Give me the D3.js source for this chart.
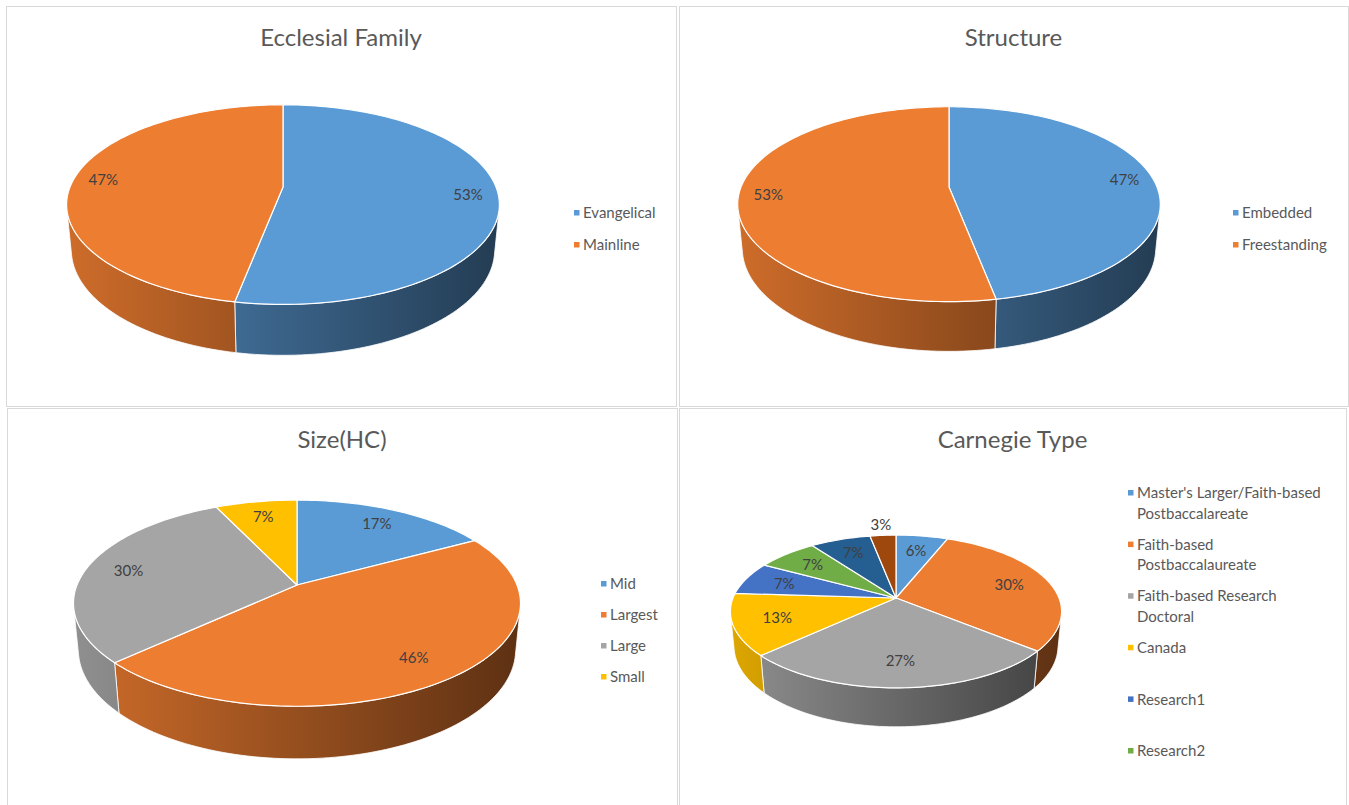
<!DOCTYPE html>
<html>
<head>
<meta charset="utf-8">
<script src="https://cdn.jsdelivr.net/npm/d3@7"></script>
<style>
  body { margin: 0; background: #fff; }
  text { font-family: Lato, "Open Sans", sans-serif; }
</style>
</head>
<body>
<div id="chart"></div>
<script>
// ---- data ----
const ecclesialLabels = ["Evangelical", "Mainline"];
const ecclesialValues = [53, 47];

const structureLabels = ["Embedded", "Freestanding"];
const structureValues = [47, 53];

const sizeLabels = ["Mid", "Largest", "Large", "Small"];
const sizeValues = [17, 46, 30, 7];

// only six legend entries fit in the panel, the pie has eight slices
const carnegieLabels = ["Master's Larger/Faith-based Postbaccalareate", "Faith-based Postbaccalaureate",
  "Faith-based Research Doctoral", "Canada", "Research1", "Research2"];
const carnegieValues = [6, 30, 27, 13, 7, 7, 7, 3];

const palette = ["#5B9BD5", "#ED7D31", "#A5A5A5", "#FFC000", "#4472C4", "#70AD47", "#255E91", "#9E480E"];

const W = 1349, H = 805;
const svg = d3.select("#chart").append("svg").attr("width", W).attr("height", H);
const defs = svg.append("defs");

// panels: frame, pie placement (3d projection), legend placement
const panels = [
  { title: "Ecclesial Family", labels: ecclesialLabels, values: ecclesialValues,
    box: [6, 6, 670, 400], titleY: 46,
    pie: { cx: 283, cy: 187, S: 213 }, labelR: 0.86,
    legend: { x: 583, y: 213, step: 32, wrap: 999 } },
  { title: "Structure", labels: structureLabels, values: structureValues,
    box: [679, 6, 669, 400], titleY: 46,
    pie: { cx: 949, cy: 187, S: 208 }, labelR: 0.86,
    legend: { x: 1242, y: 213, step: 32, wrap: 999 } },
  { title: "Size(HC)", labels: sizeLabels, values: sizeValues,
    box: [7, 408, 670, 400], titleY: 448,
    pie: { cx: 297, cy: 585, S: 220 }, labelR: 0.8,
    legend: { x: 610, y: 584, step: 31, wrap: 999 } },
  { title: "Carnegie Type", labels: carnegieLabels, values: carnegieValues,
    box: [679, 408, 667, 400], titleY: 448,
    pie: { cx: 896, cy: 598, S: 163 }, labelR: 0.74,
    legend: { x: 1137, y: 493, step: 51.6, wrap: 186 } }
];

// 3d tilt shared by all pies
const tilt = 27 * Math.PI / 180;
const sinT = Math.sin(tilt), cosT = Math.cos(tilt);
const persp = 0.198;     // radius / camera distance
const thick = 0.24;      // slab thickness relative to radius
const visQ = persp / cosT;
const visA0 = Math.acos(-visQ), visA1 = 2 * Math.PI - visA0;

function project(g, a, r, h) {
  const X = r * Math.sin(a), Z = r * Math.cos(a);
  const dd = 1 + persp * (Z * cosT - h * sinT);
  return [g.cx + g.S * X / dd, g.cy - g.S * (Z * sinT + h * cosT) / dd];
}
function arcPts(g, a0, a1, h) {
  const n = Math.max(2, Math.ceil((a1 - a0) / (Math.PI / 120)));
  return d3.range(n + 1).map(i => project(g, a0 + (a1 - a0) * i / n, 1, h));
}
const line = d3.line();

panels.forEach((p, pi) => {
  const g = p.pie;
  const panel = svg.append("g");

  panel.append("rect")
    .attr("x", p.box[0] + 0.5).attr("y", p.box[1] + 0.5)
    .attr("width", p.box[2]).attr("height", p.box[3])
    .attr("fill", "#fff").attr("stroke", "#d9d9d9").attr("stroke-width", 1);

  panel.append("text")
    .attr("x", p.box[0] + p.box[2] / 2).attr("y", p.titleY)
    .attr("text-anchor", "middle").attr("font-size", 24).attr("fill", "#595959")
    .text(p.title);

  const arcs = d3.pie().sort(null).value(d => d)(p.values);

  // side walls (front part only)
  arcs.forEach((d, i) => {
    const s = Math.max(d.startAngle, visA0), e = Math.min(d.endAngle, visA1);
    if (e <= s) return;
    const col = d3.color(palette[i]);
    const id = `wall-${pi}-${i}`;
    const grad = defs.append("linearGradient").attr("id", id)
      .attr("gradientUnits", "userSpaceOnUse")
      .attr("x1", g.cx - g.S).attr("x2", g.cx + g.S).attr("y1", 0).attr("y2", 0);
    grad.append("stop").attr("offset", 0).attr("stop-color", col.darker(0.4));
    grad.append("stop").attr("offset", 1).attr("stop-color", col.darker(2.6));
    const pts = arcPts(g, s, e, 0).concat(arcPts(g, s, e, -thick).reverse());
    panel.append("path")
      .attr("d", line(pts) + "Z")
      .attr("fill", `url(#${id})`)
      .attr("stroke", "#fff").attr("stroke-width", 1).attr("stroke-opacity", 0.8)
      .attr("stroke-linejoin", "round");
  });

  // top faces
  const c0 = project(g, 0, 0, 0);
  panel.selectAll("path.top")
    .data(arcs)
    .join("path")
    .attr("class", "top")
    .attr("d", d => line([c0].concat(arcPts(g, d.startAngle, d.endAngle, 0))) + "Z")
    .attr("fill", (d, i) => palette[i])
    .attr("stroke", "#fff").attr("stroke-width", 1.2)
    .attr("stroke-linejoin", "round");

  // data labels
  const total = d3.sum(p.values);
  panel.selectAll("text.lbl")
    .data(arcs)
    .join("text")
    .attr("class", "lbl")
    .attr("transform", d => {
      const a = (d.startAngle + d.endAngle) / 2;
      const r = d.value / total < 0.05 ? 1.2 : p.labelR;
      return `translate(${project(g, a, r, 0)})`;
    })
    .attr("text-anchor", "middle").attr("dy", "0.35em")
    .attr("font-size", 15).attr("fill", "#404040")
    .text(d => Math.round(d.value / total * 100) + "%");

  // legend
  const L = p.legend;
  p.labels.forEach((name, i) => {
    const y = L.y + i * L.step;
    panel.append("rect")
      .attr("x", L.x - 9).attr("y", y - 3).attr("width", 5.5).attr("height", 5.5)
      .attr("fill", palette[i]);
    const t = panel.append("text")
      .attr("x", L.x).attr("y", y)
      .attr("font-size", 15).attr("fill", "#595959");
    // wrap long names
    const words = name.split(" ");
    let lineTxt = [];
    let tsp = t.append("tspan").attr("x", L.x).attr("dy", "0.35em");
    words.forEach(w => {
      lineTxt.push(w);
      tsp.text(lineTxt.join(" "));
      if (tsp.node().getComputedTextLength() > L.wrap && lineTxt.length > 1) {
        lineTxt.pop();
        tsp.text(lineTxt.join(" "));
        lineTxt = [w];
        tsp = t.append("tspan").attr("x", L.x).attr("dy", "1.37em").text(w);
      }
    });
  });
});
</script>
</body>
</html>
